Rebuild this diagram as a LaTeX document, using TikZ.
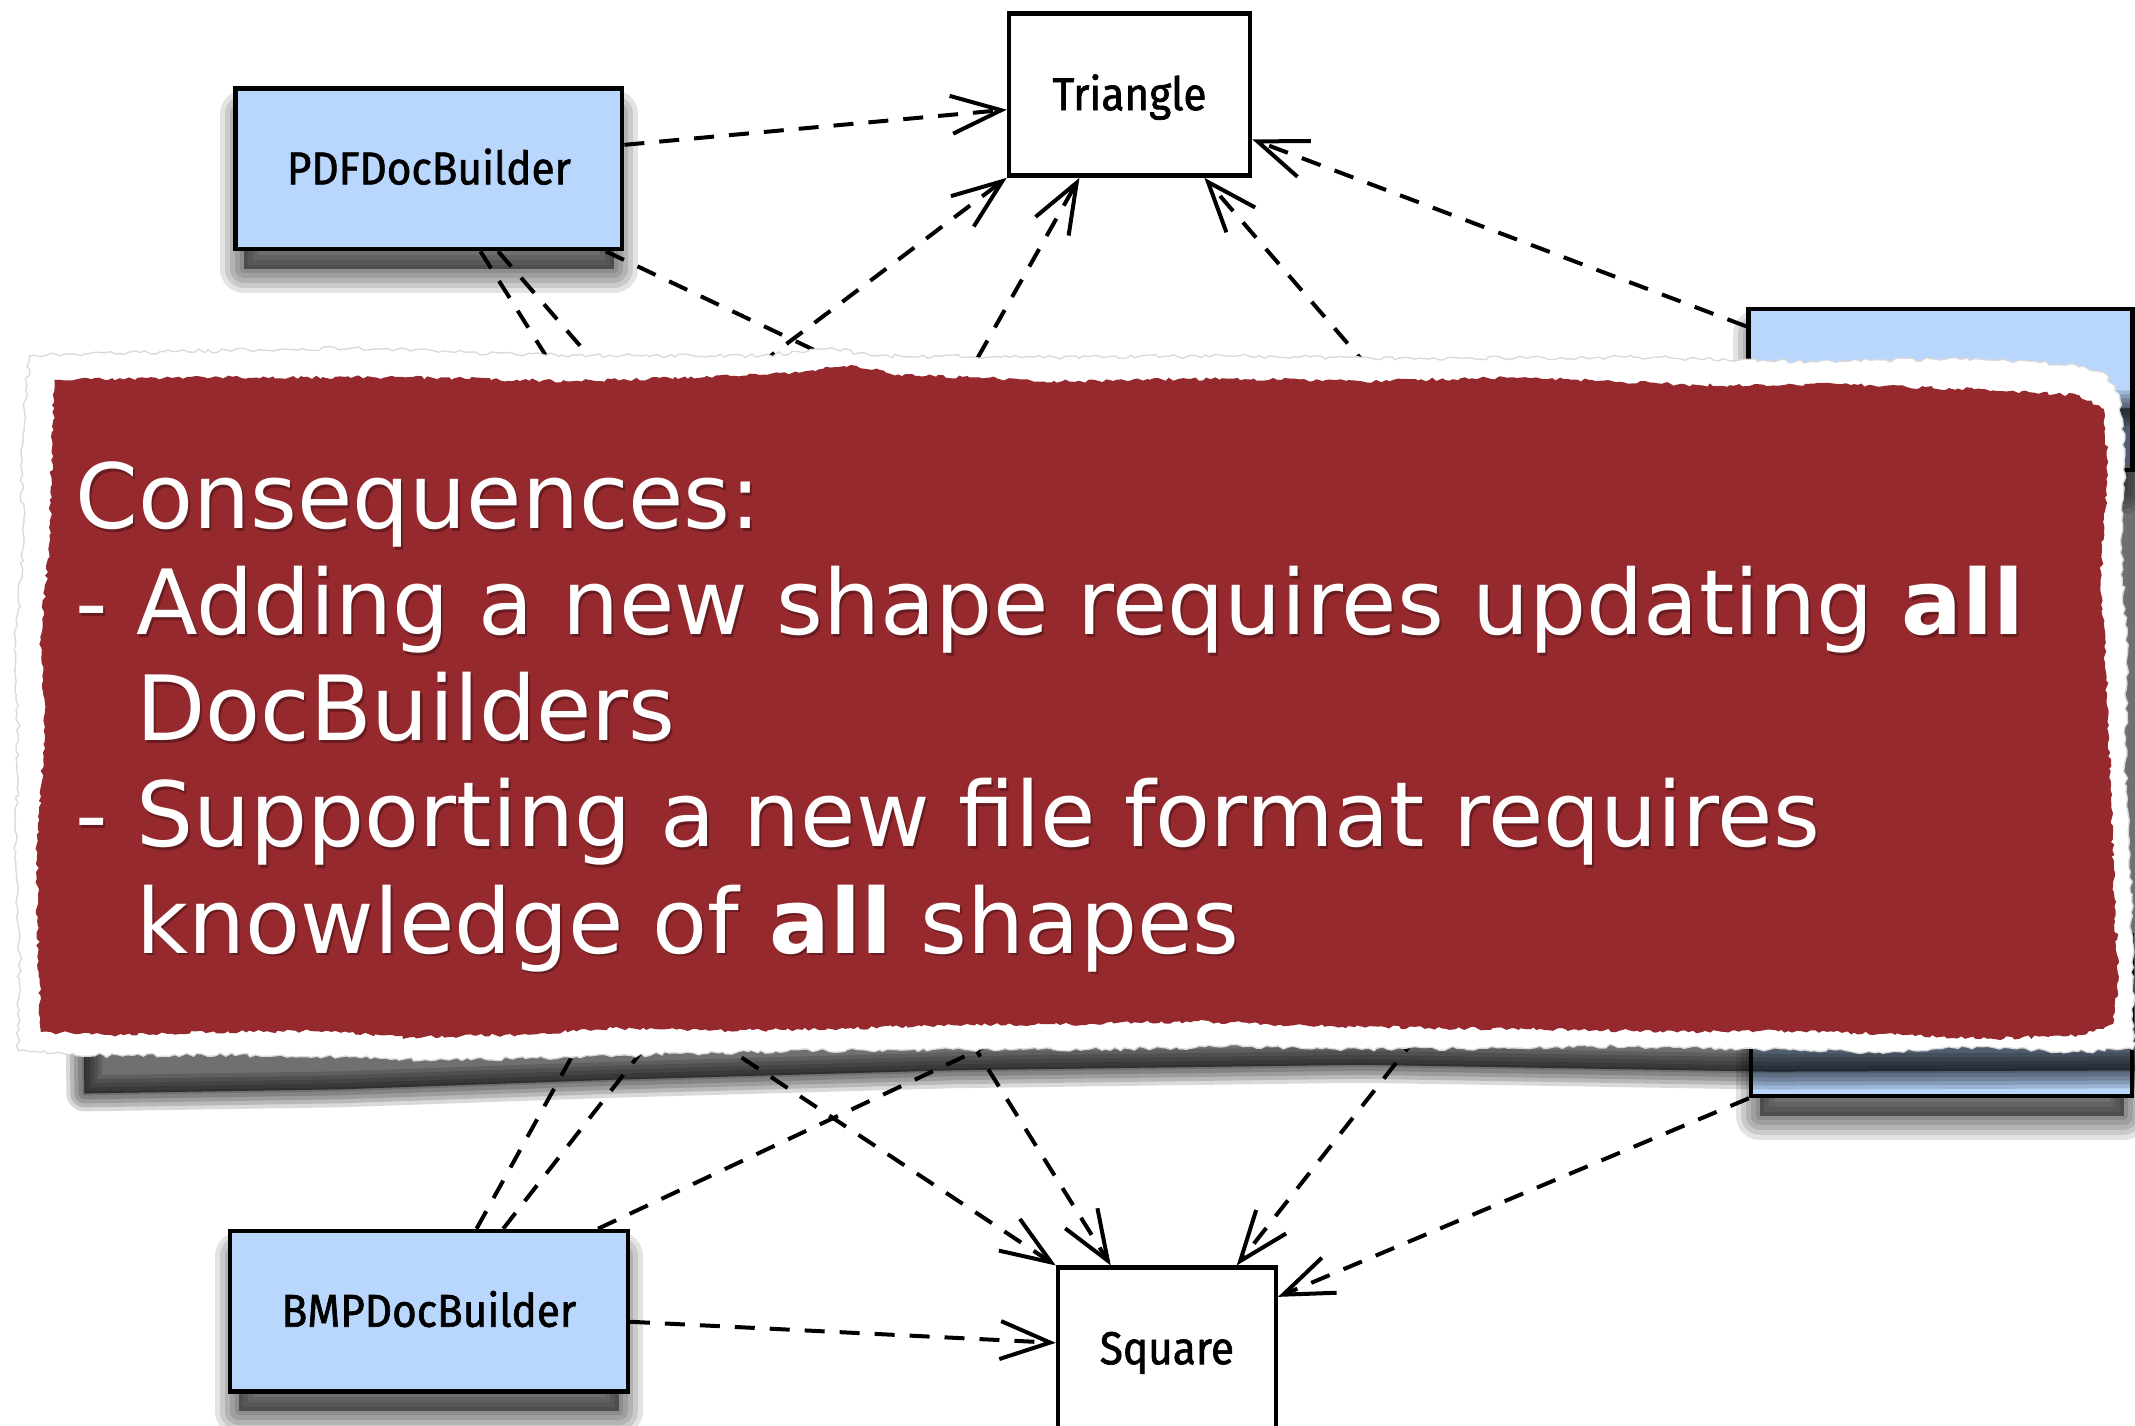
\documentclass[tikz,border=0pt]{standalone}
\usepackage{fontspec}
\setmainfont{DejaVu Sans}
\newfontfamily\nodefont[FakeStretch=0.92,FakeBold=1.4]{Fira Sans}
\usetikzlibrary{arrows.meta,decorations.pathmorphing,calc}
\definecolor{bluefill}{RGB}{185,215,252}
\definecolor{bannerred}{RGB}{149,41,46}
\pgfdeclarelayer{bg}
\pgfsetlayers{bg,main}
\begin{document}
\begin{tikzpicture}[x=0.6808pt,y=-0.6808pt,
  nodebox/.style={draw=black, line width=2.2pt, inner sep=0pt, minimum height=80.3pt,
    text height=15.5pt, text depth=0pt, font=\nodefont\fontsize{23}{26}\selectfont, text=black},
  builderbox/.style={nodebox, fill=bluefill},
  shapebox/.style={nodebox, fill=white, minimum height=81pt},
  deptail/.style={draw=black, line width=2pt, dash pattern=on 10pt off 7.5pt},
  dep/.style={deptail, -{Straight Barb[length=25pt,width=19pt]}},
  bantext/.style={anchor=base west, inner sep=0pt, text=white, font=\fontsize{45}{53}\selectfont},
  banshadow/.style={bantext, text=black, opacity=0.3},
  torn/.style={decorate, decoration={random steps, segment length=2.5pt, amplitude=1pt}}
]
\begin{pgfonlayer}{bg}
\fill[white] (0,0) rectangle (1568,1046.6);
\end{pgfonlayer}
\useasboundingbox (0,0) rectangle (1568,1046.6);
\clip (0,0) rectangle (1568,1046.6);

% nodes
\node[builderbox, minimum width=193.3pt] (pdf) at (315,124) {PDFDocBuilder};
\node[shapebox, minimum width=120.5pt] (tri) at (829.5,69.5) {Triangle};
\node[builderbox, minimum width=198.8pt] (bmp) at (315,963) {BMPDocBuilder};
\node[shapebox, minimum width=108.9pt] (sq) at (857,990.5) {Square};
\node[builderbox, minimum width=192pt] (rb1) at (1425,286) {};
\node[builderbox, minimum width=190.6pt] (rb2) at (1426,746) {};

% node shadows (soft)
\begin{pgfonlayer}{bg}
\foreach \n in {pdf,bmp,rb1,rb2} {
  \foreach \w in {24,19,14,9,4} {
    \filldraw[black, opacity=0.11, line width=\w pt, line join=round]
      ([shift={(8,20)}]\n.north west) rectangle ([shift={(-8,13)}]\n.south east);
  }
}
\end{pgfonlayer}

% hidden ends (under the banner)
\coordinate (hb) at (444,330);
\coordinate (hc) at (492,330);
\coordinate (hd) at (752,330);
\coordinate (he) at (475,330);
\coordinate (hf) at (680,330);
\coordinate (hg) at (1057,330);
\coordinate (hi) at (451,720);
\coordinate (hj) at (512,720);
\coordinate (hk) at (827,720);
\coordinate (hm) at (459,720);
\coordinate (hn) at (685,720);
\coordinate (ho) at (1073,720);

% connectors
\draw[dep] (pdf.7) -- (tri.187);
\draw[deptail] (pdf.-58) -- (hb);
\draw[deptail] (pdf.-50) -- (hc);
\draw[deptail] (pdf.-25) -- (hd);
\draw[dep] (he) -- (tri.south west);
\draw[dep] (hf) -- (tri.239);
\draw[dep] (hg) -- (tri.-48);
\draw[dep] (rb1.162) -- (tri.-20);

\draw[deptail] (bmp.60) -- (hi);
\draw[deptail] (bmp.48) -- (hj);
\draw[deptail] (bmp.26) -- (hk);
\draw[dep] (bmp.-3) -- (sq.177);
\draw[dep] (hm) -- (sq.north west);
\draw[dep] (hn) -- (sq.124);
\draw[dep] (ho) -- (sq.50);
\draw[dep] (rb2.south west) -- (sq.25);

% banner shadow (soft)
\foreach \w in {18,14,10,6,2} {
  \filldraw[black, opacity=0.15, line width=\w pt, line join=round]
    (56,300) -- (1592,300) -- (1592,786) -- (1300,787) -- (1000,782) -- (700,786)
    -- (450,793) -- (250,800) -- (62,803) -- cycle;
}

% white torn paper
\pgfmathsetseed{7}
\draw[black!15, line width=1.4pt, torn]
 (22,262) -- (120,259) -- (260,256) -- (380,261) -- (470,262) -- (560,262) -- (610,256) -- (640,262)
 -- (760,263) -- (900,262) -- (1050,264) -- (1200,263) -- (1330,266) -- (1450,264) -- (1520,268)
 -- (1545,274) -- (1556,290) -- (1560,330) -- (1557,400) -- (1562,480) -- (1560,560) -- (1564,640)
 -- (1566,720) -- (1566,770) -- (1520,772) -- (1460,768) -- (1380,772) -- (1300,770) -- (1200,768)
 -- (1100,769) -- (1000,770) -- (900,768) -- (800,770) -- (700,770) -- (600,771) -- (500,773)
 -- (420,776) -- (320,778) -- (240,775) -- (160,774) -- (90,775) -- (40,773) -- (14,771)
 -- (15,700) -- (12,620) -- (14,540) -- (12,470) -- (18,400) -- (16,330) -- cycle;
\pgfmathsetseed{7}
\fill[white, torn]
 (22,262) -- (120,259) -- (260,256) -- (380,261) -- (470,262) -- (560,262) -- (610,256) -- (640,262)
 -- (760,263) -- (900,262) -- (1050,264) -- (1200,263) -- (1330,266) -- (1450,264) -- (1520,268)
 -- (1545,274) -- (1556,290) -- (1560,330) -- (1557,400) -- (1562,480) -- (1560,560) -- (1564,640)
 -- (1566,720) -- (1566,770) -- (1520,772) -- (1460,768) -- (1380,772) -- (1300,770) -- (1200,768)
 -- (1100,769) -- (1000,770) -- (900,768) -- (800,770) -- (700,770) -- (600,771) -- (500,773)
 -- (420,776) -- (320,778) -- (240,775) -- (160,774) -- (90,775) -- (40,773) -- (14,771)
 -- (15,700) -- (12,620) -- (14,540) -- (12,470) -- (18,400) -- (16,330) -- cycle;

% red banner
\pgfmathsetseed{11}
\fill[bannerred, decorate, decoration={random steps, segment length=2pt, amplitude=0.9pt}]
 (40,279) -- (150,277) -- (300,277) -- (420,280) -- (540,276) -- (590,273) -- (625,268) -- (660,275)
 -- (780,280) -- (900,278) -- (1000,280) -- (1120,277) -- (1250,283) -- (1350,282) -- (1450,286)
 -- (1525,290) -- (1545,300) -- (1548,340) -- (1543,420) -- (1547,500) -- (1550,580) -- (1553,660)
 -- (1556,720) -- (1552,752) -- (1530,760) -- (1460,763) -- (1400,760) -- (1320,757) -- (1240,758)
 -- (1150,756) -- (1050,755) -- (950,753) -- (880,750) -- (800,752) -- (700,753) -- (600,756)
 -- (520,757) -- (450,755) -- (380,760) -- (300,762) -- (240,757) -- (150,758) -- (80,760)
 -- (30,758) -- (28,700) -- (27,620) -- (33,540) -- (30,470) -- (36,400) -- (38,330) -- cycle;

% banner text
\node[banshadow] (s1) at (56.5,390) {Consequences:};
\node[banshadow] (s2) at (56.5,468) {- Adding a new shape requires updating \textbf{all}};
\node[banshadow] (s3) at (56.5,546) {\hphantom{- }DocBuilders};
\node[banshadow] (s4) at (56.5,624) {- Supporting a new file format requires};
\node[banshadow] (s5) at (56.5,702) {\hphantom{- }knowledge of \textbf{all} shapes};

\node[bantext] (t1) at (55,388) {Consequences:};
\node[bantext] (t2) at (55,466) {- Adding a new shape requires updating \textbf{all}};
\node[bantext] (t3) at (55,544) {\hphantom{- }DocBuilders};
\node[bantext] (t4) at (55,622) {- Supporting a new file format requires};
\node[bantext] (t5) at (55,700) {\hphantom{- }knowledge of \textbf{all} shapes};
\end{tikzpicture}
\end{document}
